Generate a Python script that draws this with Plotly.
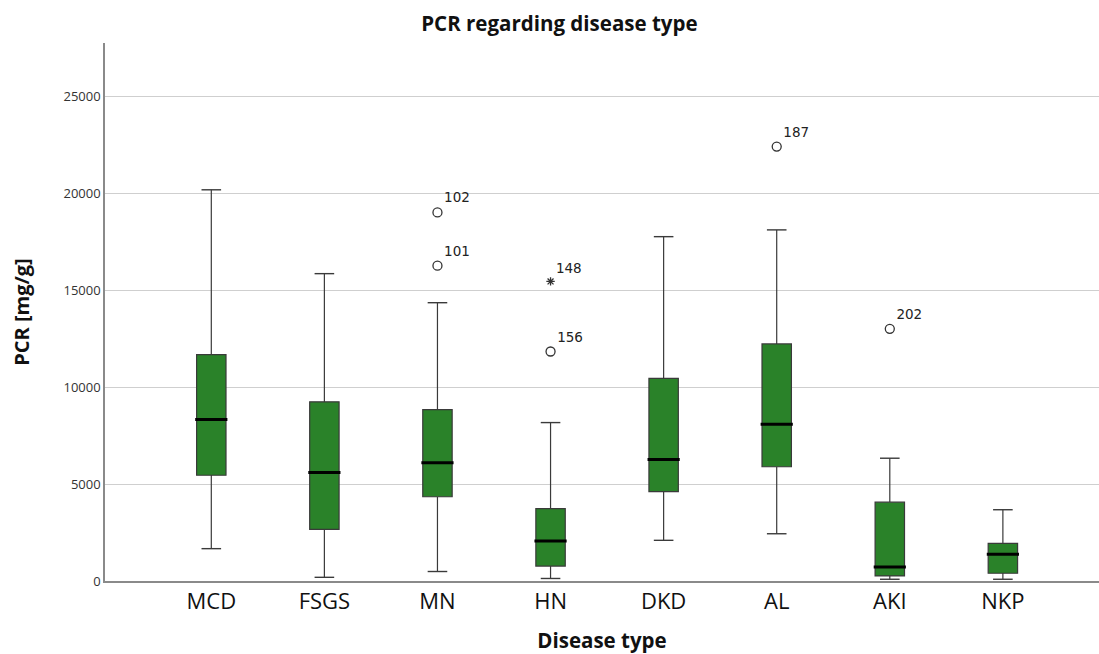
import plotly.graph_objects as go

categories = ["MCD", "FSGS", "MN", "HN", "DKD", "AL", "AKI", "NKP"]
lower_whisker = [1670, 190, 490, 130, 2100, 2440, 90, 90]
q1 = [5460, 2670, 4350, 770, 4610, 5900, 260, 400]
median = [8340, 5600, 6110, 2060, 6270, 8100, 720, 1380]
q3 = [11690, 9250, 8850, 3740, 10460, 12240, 4070, 1940]
upper_whisker = [20200, 15870, 14370, 8180, 17780, 18130, 6340, 3680]

outlier_cat = ["MN", "MN", "HN", "AL", "AKI"]
outlier_val = [19030, 16280, 11850, 22430, 13020]
outlier_id = ["102", "101", "156", "187", "202"]

extreme_cat = ["HN"]
extreme_val = [15470]
extreme_id = ["148"]

GREEN = "#2a8229"
BOX_W = 0.26

fig = go.Figure()

fig.add_trace(go.Box(
    x=categories, q1=q1, median=median, q3=q3,
    lowerfence=lower_whisker, upperfence=upper_whisker,
    fillcolor=GREEN, line=dict(color="#3a3a3a", width=1.2),
    width=BOX_W, boxpoints=False, whiskerwidth=0, showlegend=False,
    hoverinfo="skip",
))

# whisker caps
fig.add_trace(go.Scatter(
    x=categories + categories, y=lower_whisker + upper_whisker,
    mode="markers", marker=dict(symbol="line-ew", size=14,
                                line=dict(color="#3a3a3a", width=1.4)),
    showlegend=False, hoverinfo="skip",
))

# thicker median lines
fig.add_trace(go.Scatter(
    x=categories, y=median, mode="markers",
    marker=dict(symbol="line-ew", size=23, line=dict(color="black", width=3)),
    showlegend=False, hoverinfo="skip",
))

# outliers
fig.add_trace(go.Scatter(
    x=outlier_cat, y=outlier_val, mode="markers+text",
    text=outlier_id, textposition="top right",
    textfont=dict(family="DejaVu Sans", size=13.5, color="#222"),
    marker=dict(symbol="circle-open", size=9, color="#333",
                line=dict(width=1.3, color="#333")),
    showlegend=False, hoverinfo="skip",
))

fig.add_trace(go.Scatter(
    x=extreme_cat, y=extreme_val, mode="markers+text",
    text=extreme_id, textposition="top right",
    textfont=dict(family="DejaVu Sans", size=13.5, color="#222"),
    marker=dict(symbol="asterisk-open", size=7, color="#333",
                line=dict(width=1.3, color="#333")),
    showlegend=False, hoverinfo="skip",
))

fig.update_layout(
    width=1099, height=654,
    margin=dict(l=105, r=0, t=43, b=73),
    paper_bgcolor="white", plot_bgcolor="white",
    font=dict(family="Open Sans", color="#111"),
    title=dict(text="<b>PCR regarding disease type</b>", x=0.509, xanchor="center",
               y=0.963, yanchor="middle", font=dict(size=20.5, color="#111")),
    xaxis=dict(
        type="category", categoryorder="array", categoryarray=categories,
        range=[-0.94, 7.85],
        showline=True, linecolor="#8a8a8a", linewidth=2,
        showgrid=False, ticks="", tickfont=dict(size=22, color="#111"),
        title=dict(text="<b>Disease type</b>", font=dict(size=20.5, color="#111"), standoff=22),
        zeroline=False,
    ),
    yaxis=dict(
        range=[0, 27780], tickvals=[0, 5000, 10000, 15000, 20000, 25000],
        ticktext=["0", "5000", "10000", "15000", "20000", "25000"],
        showline=True, linecolor="#8a8a8a", linewidth=1.5,
        showgrid=True, gridcolor="#cfcfcf", gridwidth=1.3,
        zeroline=False, ticks="", ticklen=0,
        tickfont=dict(size=13, color="#333"),
        title=dict(text="<b>PCR [mg/g]</b>", font=dict(size=20, color="#111"), standoff=28),
    ),
)

fig.write_html("out.html")
